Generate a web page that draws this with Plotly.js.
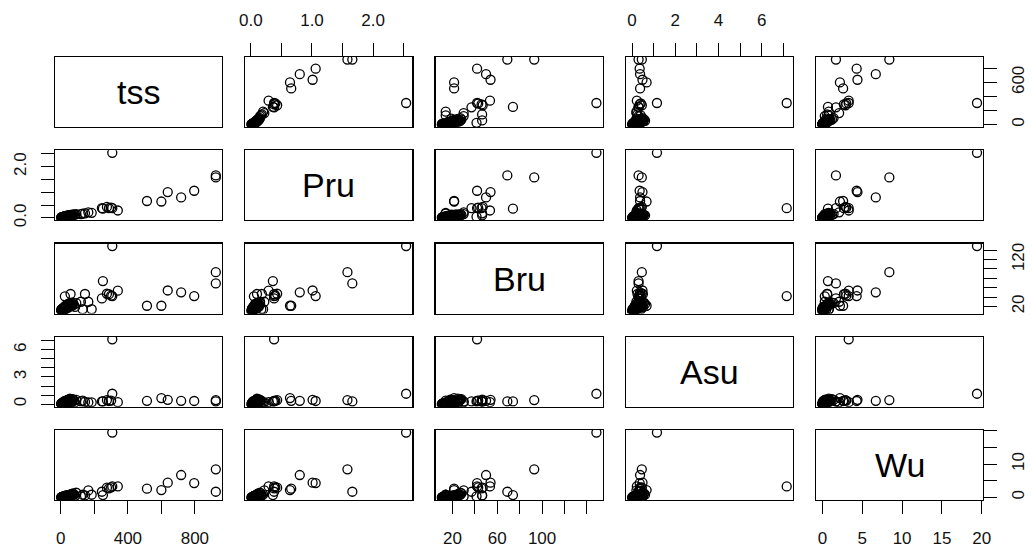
<!DOCTYPE html>
<html>
<head>
<meta charset="utf-8">
<script src="https://cdn.plot.ly/plotly-3.0.1.min.js"></script>
<style>html,body{margin:0;padding:0;background:#fff;}#chart{width:1032px;height:549px;}</style>
</head>
<body>
<div id="chart"></div>
<script>
// ---- data (one entry per observation) ----
const variables = ['tss', 'Pru', 'Bru', 'Asu', 'Wu'];

const tss = [925, 925, 796, 718, 638, 600, 514, 340, 307, 307, 251, 300, 275, 287, 245, 164, 144, 184, 130, 120, 58, 24,
  3, 5, 8, 10, 12, 15, 18, 20, 22, 25, 28, 30, 33, 36, 40, 43, 46, 50, 54, 58, 62, 67, 72, 78, 85, 92, 6, 2, 14,
  4, 7, 9, 11, 13, 16, 19, 21, 24, 27, 31, 35, 38, 42, 48, 52, 64, 70];
const Pru = [1.58, 1.66, 1.06, 0.80, 1.01, 0.64, 0.66, 0.29, 2.54, 0.38, 0.36, 0.40, 0.43, 0.38, 0.38, 0.22, 0.18, 0.20, 0.17, 0.15, 0.10, 0.05,
  0.02, 0.03, 0.02, 0.04, 0.03, 0.05, 0.04, 0.06, 0.05, 0.07, 0.06, 0.08, 0.07, 0.09, 0.08, 0.10, 0.09, 0.11, 0.10, 0.12, 0.11, 0.13, 0.12, 0.14, 0.13, 0.15, 0.01, 0.02, 0.03,
  0.01, 0.02, 0.03, 0.02, 0.04, 0.03, 0.05, 0.04, 0.06, 0.05, 0.07, 0.06, 0.08, 0.07, 0.09, 0.10, 0.10, 0.11];
const Bru = [93, 69, 42, 50, 54, 21.5, 21.5, 53.5, 148.5, 42, 74, 43, 47, 46, 37, 30, 46.5, 14, 14, 30, 46.5, 41.5,
  11, 12, 14, 13, 15, 16, 12, 18, 17, 14, 20, 19, 22, 16, 21, 24, 18, 23, 25, 20, 26, 22, 28, 24, 19, 27, 10.5, 13, 11,
  12, 15, 11.5, 16, 13.5, 17, 14.5, 19, 15.5, 21, 17.5, 23, 18.5, 25.5, 20.5, 27, 21.5, 25];
const Asu = [0.45, 0.30, 0.35, 0.37, 0.48, 0.67, 0.37, 0.22, 1.15, 7.15, 0.30, 0.40, 0.45, 0.35, 0.30, 0.20, 0.25, 0.20, 0.40, 0.30, 0.50, 0.30,
  0.05, 0.10, 0.02, 0.15, 0.08, 0.20, 0.12, 0.25, 0.30, 0.18, 0.35, 0.10, 0.40, 0.22, 0.45, 0.28, 0.50, 0.15, 0.60, 0.32, 0.42, 0.25, 0.55, 0.38, 0.20, 0.48, 0.00, 0.03, 0.06,
  0.04, 0.12, 0.07, 0.18, 0.09, 0.25, 0.14, 0.33, 0.05, 0.27, 0.38, 0.16, 0.43, 0.21, 0.36, 0.53, 0.29, 0.44];
const Wu = [8.4, 1.7, 4.3, 6.7, 4.4, 2.2, 2.6, 3.3, 19.4, 3.3, 0.7, 3.0, 2.9, 2.7, 1.7, 2.1, 0.6, 0.8, 0.8, 0.3, 0.6, 0.3,
  0.05, 0.10, 0.00, 0.20, 0.10, 0.30, 0.05, 0.40, 0.20, 0.50, 0.30, 0.15, 0.60, 0.25, 0.45, 0.70, 0.35, 0.55, 0.80, 0.40, 1.00, 0.65, 1.20, 0.90, 0.50, 1.40, 0.00, 0.02, 0.08,
  0.03, 0.06, 0.12, 0.00, 0.18, 0.22, 0.35, 0.10, 0.28, 0.42, 0.18, 0.52, 0.33, 0.62, 0.48, 0.75, 0.58, 0.85];

// tick values and labels (blank = tick without label, as R drops overlapping labels)
const tssTicks = [0, 200, 400, 600, 800];
const tssXLabels = ['0', '', '400', '', '800'];
const tssYLabels = ['0', '', '', '600', ''];
const PruTicks = [0, 0.5, 1, 1.5, 2, 2.5];
const PruXLabels = ['0.0', '', '1.0', '', '2.0', ''];
const PruYLabels = ['0.0', '', '', '', '2.0', ''];
const BruTicks = [20, 40, 60, 80, 100, 120, 140];
const BruXLabels = ['20', '', '60', '', '100', '', ''];
const BruYLabels = ['20', '', '', '', '', '120', ''];
const AsuTicks = [0, 1, 2, 3, 4, 5, 6, 7];
const AsuXLabels = ['0', '', '2', '', '4', '', '6', ''];
const AsuYLabels = ['0', '', '', '3', '', '', '6', ''];
const WuTicks = [0, 5, 10, 15, 20];
const WuXLabels = ['0', '5', '10', '15', '20'];
const WuYLabels = ['0', '', '10', '', ''];

// ---- assemble ----
const series = [tss, Pru, Bru, Asu, Wu];
const ticks = [tssTicks, PruTicks, BruTicks, AsuTicks, WuTicks];
const xLabels = [tssXLabels, PruXLabels, BruXLabels, AsuXLabels, WuXLabels];
const yLabels = [tssYLabels, PruYLabels, BruYLabels, AsuYLabels, WuYLabels];

function extRange(a) {
  const mn = Math.min(...a), mx = Math.max(...a), d = mx - mn;
  return [mn - 0.04 * d, mx + 0.04 * d];
}
const ranges = series.map(extRange);

const W = 1032, H = 549, n = variables.length;
const colLeft = 55, colStep = 190.3, panelW = 167;
const rowTop = 57, rowStep = 93.25, panelH = 70;
const FONT = 'Liberation Sans, Arial, sans-serif';

const traces = [], layout = {
  width: W, height: H, margin: {l: 0, r: 0, t: 0, b: 0},
  paper_bgcolor: '#fff', plot_bgcolor: '#fff', showlegend: false, annotations: []
};

for (let i = 0; i < n; i++) {
  for (let j = 0; j < n; j++) {
    const k = i * n + j + 1;
    const xs = k === 1 ? '' : String(k);
    const x0 = colLeft + j * colStep, y0 = rowTop + i * rowStep;
    const showX = (i === n - 1 && j % 2 === 0) || (i === 0 && j % 2 === 1);
    const showY = (j === 0 && i % 2 === 1) || (j === n - 1 && i % 2 === 0);
    const base = {
      showline: true, mirror: true, linecolor: '#000', linewidth: 1.2,
      showgrid: false, zeroline: false, fixedrange: true,
      tickcolor: '#000', tickwidth: 1, ticklen: 13,
      tickfont: {family: FONT, size: 17, color: '#111'}
    };
    layout['xaxis' + xs] = Object.assign({}, base, {
      domain: [x0 / W, (x0 + panelW) / W],
      range: ranges[j], anchor: 'y' + xs,
      side: (i === 0) ? 'top' : 'bottom',
      ticks: showX ? 'outside' : '', showticklabels: showX,
      ticklabelstandoff: (i === 0) ? 10 : 9,
      tickmode: 'array', tickvals: ticks[j], ticktext: xLabels[j], tickangle: 0
    });
    layout['yaxis' + xs] = Object.assign({}, base, {
      domain: [1 - (y0 + panelH) / H, 1 - y0 / H],
      range: ranges[i], anchor: 'x' + xs,
      side: (j === n - 1) ? 'right' : 'left',
      ticks: showY ? 'outside' : '', showticklabels: showY,
      ticklabelstandoff: (j === n - 1) ? 6 : 8,
      tickmode: 'array', tickvals: ticks[i], ticktext: yLabels[i], tickangle: -90
    });
    if (i === j) {
      layout.annotations.push({
        xref: 'x' + xs + ' domain', yref: 'y' + xs + ' domain', x: 0.5, y: 0.5,
        text: variables[i], showarrow: false,
        font: {family: FONT, size: 34, color: '#000'}
      });
      traces.push({type: 'scatter', x: [], y: [], xaxis: 'x' + xs, yaxis: 'y' + xs, hoverinfo: 'skip'});
    } else {
      traces.push({
        type: 'scatter', mode: 'markers', x: series[j], y: series[i],
        xaxis: 'x' + xs, yaxis: 'y' + xs,
        marker: {symbol: 'circle-open', size: 9, color: '#000', line: {width: 1.3, color: '#000'}},
        hoverinfo: 'skip'
      });
    }
  }
}

Plotly.newPlot('chart', traces, layout, {staticPlot: true, displayModeBar: false});
</script>
</body>
</html>
